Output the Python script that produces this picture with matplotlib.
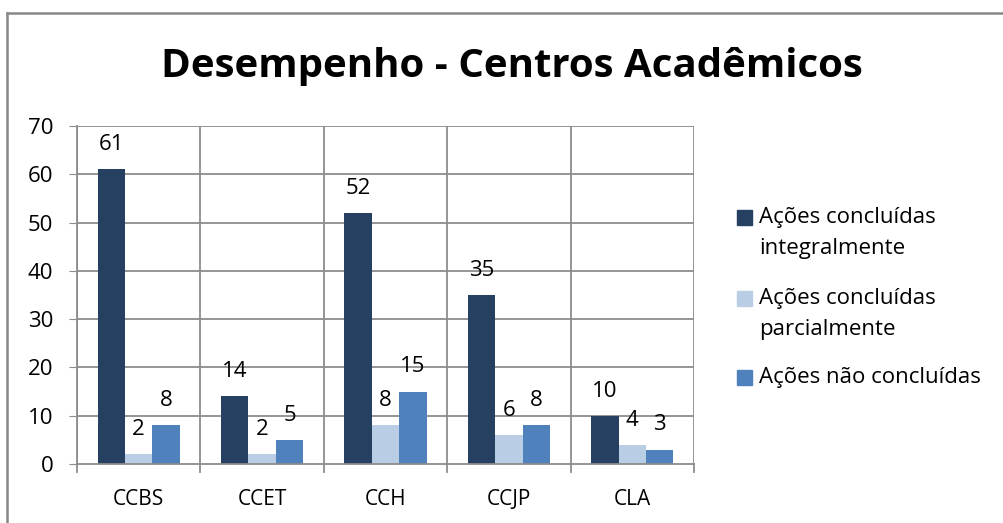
import numpy as np
import matplotlib.pyplot as plt
from matplotlib.lines import Line2D
from matplotlib.patches import Rectangle

categories = ['CCBS', 'CCET', 'CCH', 'CCJP', 'CLA']
integral = [61, 14, 52, 35, 10]
parcial = [2, 2, 8, 6, 4]
nao = [8, 5, 15, 8, 3]
series_names = ['Ações concluídas\nintegralmente',
                'Ações concluídas\nparcialmente',
                'Ações não concluídas']
colors = ['#264061', '#B9CDE5', '#4F81BD']

plt.rcParams['font.family'] = ['Open Sans', 'DejaVu Sans']

W, H = 1004, 523
fig = plt.figure(figsize=(W / 100, H / 100), dpi=100)

# plot area in pixels: x 77..694, y 126..464
ax = fig.add_axes([77 / W, 1 - 464 / H, (694 - 77) / W, (464 - 126) / H])

x = np.arange(len(categories))
bw = 0.222
grid_c = '#8C8C8C'

for i, (vals, c) in enumerate(zip([integral, parcial, nao], colors)):
    pos = x + (i - 1) * bw
    ax.bar(pos, vals, width=bw, color=c, zorder=3)
    for p, v in zip(pos, vals):
        ax.text(p, v + 5.1, str(v), ha='center', va='center', fontsize=16, zorder=4)

ax.set_xlim(-0.5, len(categories) - 0.5)
ax.set_ylim(0, 70)
ax.set_yticks(range(0, 71, 10))
ax.set_xticks(x)
ax.set_xticklabels(categories, fontsize=15)
ax.tick_params(axis='x', length=0, pad=18)
ax.tick_params(axis='y', length=6, color=grid_c, labelsize=16, pad=11)

# gridlines
for yv in range(10, 71, 10):
    ax.axhline(yv, color=grid_c, lw=1.3, zorder=1)
for xv in np.arange(-0.5, len(categories), 1.0):
    ax.plot([xv, xv], [0, 70], color=grid_c, lw=1.3, zorder=1)
    ax.plot([xv, xv], [0, -1.6], color=grid_c, lw=1.3, zorder=1, clip_on=False)

for s in ['top', 'right']:
    ax.spines[s].set_visible(False)
for s in ['left', 'bottom']:
    ax.spines[s].set_color(grid_c)
    ax.spines[s].set_linewidth(1.3)
ax.spines['bottom'].set_zorder(5)

fig.text(512 / W, 1 - 66 / H, 'Desempenho - Centros Acadêmicos', ha='center', va='center',
         fontsize=29, fontweight='bold')

# legend: square aligned with first line of each label
legend_y = [217.5, 298, 377]
for name, c, ly in zip(series_names, colors, legend_y):
    fig.add_artist(Rectangle((737 / W, 1 - (ly + 7.5) / H), 15 / W, 15 / H,
                             color=c, transform=fig.transFigure))
    fig.text(759 / W, 1 - (ly - 10) / H, name, ha='left', va='top',
             fontsize=16, linespacing=1.6)

# outer frame (top and left only)
fig.add_artist(Line2D([7 / W, 1], [1 - 12.5 / H, 1 - 12.5 / H], color='#888888', lw=1.8,
                      transform=fig.transFigure))
fig.add_artist(Line2D([7.5 / W, 7.5 / W], [0, 1 - 12.5 / H], color='#888888', lw=1.8,
                      transform=fig.transFigure))

fig.savefig('out.png', dpi=100)
